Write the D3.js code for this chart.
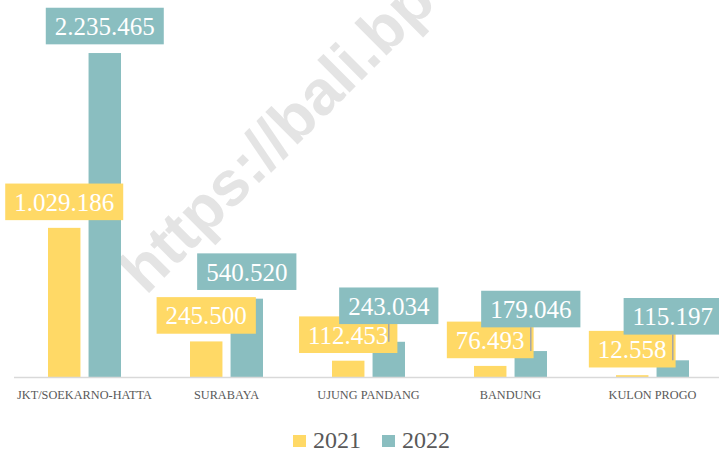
<!DOCTYPE html>
<html>
<head>
<meta charset="utf-8">
<script src="https://cdn.jsdelivr.net/npm/d3@7"></script>
<style>
  body { margin: 0; background: #fff; }
  svg { display: block; }
</style>
</head>
<body>
<svg id="chart" width="719" height="453"></svg>
<script>
"use strict";

// data
const categories = ["JKT/SOEKARNO-HATTA", "SURABAYA", "UJUNG PANDANG", "BANDUNG", "KULON PROGO"];
const seriesNames = ["2021", "2022"];
const values2021 = [1029186, 245500, 112453, 76493, 12558];
const values2022 = [2235465, 540520, 243034, 179046, 115197];
const labels2021 = ["1.029.186", "245.500", "112.453", "76.493", "12.558"];
const labels2022 = ["2.235.465", "540.520", "243.034", "179.046", "115.197"];

// layout (label lift for the moved 2022 labels with leader lines)
const lift2022 = [0, 0, 9, 15, 17];
const colors = {"2021": "#FFD966", "2022": "#8ABEC0"};
const baseY = 377;

let svg = d3.select("svg#chart");

//watermark
svg.append("text")
	.attr("transform", "translate(146,296) rotate(-45)")
	.attr("font-family", "'Liberation Sans', Arial, sans-serif")
	.attr("font-weight", "bold")
	.attr("font-size", 63)
	.attr("fill", "#e4e4e4")
	.text("https://bali.bps.go.id");

let x0 = d3.scaleBand()
	.domain(categories)
	.range([13.5, 723.5])
	.padding(0);

let x1 = d3.scaleBand()
	.domain(seriesNames)
	.range([34.5, 107.5])
	.paddingInner(0.2)
	.paddingOuter(0);

let y = d3.scaleLinear()
	.domain([0, 2500000])
	.range([baseY, 14.7]);

let rows = categories.map(function(c, i)
{
	return {cat: c, i: i, series: [
		{name: "2021", value: values2021[i], label: labels2021[i], lift: 0},
		{name: "2022", value: values2022[i], label: labels2022[i], lift: lift2022[i]}
	]};
});

//bars
let groups = svg.append("g").selectAll("g")
	.data(rows)
	.join("g")
	.attr("transform", function(d) { return "translate(" + x0(d.cat) + ",0)"; });

groups.selectAll("rect")
	.data(function(d) { return d.series; })
	.join("rect")
	.attr("x", function(d) { return x1(d.name); })
	.attr("width", x1.bandwidth())
	.attr("y", function(d) { return y(d.value); })
	.attr("height", function(d) { return baseY - y(d.value); })
	.attr("fill", function(d) { return colors[d.name]; });

//axis
let axis = svg.append("g")
	.attr("transform", "translate(0," + baseY + ")")
	.call(d3.axisBottom(x0).tickSize(0).tickPadding(13.5));
axis.select(".domain")
	.attr("stroke", "#d9d9d9")
	.attr("stroke-width", 1.5);
axis.selectAll("text")
	.attr("font-family", "'Liberation Serif', 'Times New Roman', serif")
	.attr("font-size", 12.3)
	.attr("fill", "#595959");

//data labels, 2021 first so 2022 sits on top
let labelLayer = svg.append("g");
let leaderLayer = svg.append("g");
seriesNames.forEach(function(s, si)
{
	rows.forEach(function(r)
	{
		let d = r.series[si];
		let cx = x0(r.cat) + x1(d.name) + x1.bandwidth() / 2;
		let cy = y(d.value) - (si === 0 ? 26 : 27) - d.lift;
		let g = labelLayer.append("g");
		let box = g.append("rect")
			.attr("fill", colors[d.name]);
		let t = g.append("text")
			.attr("x", cx)
			.attr("y", cy + 9)
			.attr("text-anchor", "middle")
			.attr("font-family", "'Liberation Serif', 'Times New Roman', serif")
			.attr("font-size", 25)
			.attr("fill", "#fff")
			.text(d.label);
		let w = t.node().getComputedTextLength() + 18;
		box.attr("x", cx - w / 2)
			.attr("y", cy - 18.3)
			.attr("width", w)
			.attr("height", 36.6);
		if (d.lift > 0)
		{
			leaderLayer.append("line")
				.attr("x1", cx).attr("x2", cx)
				.attr("y1", cy + 18.3)
				.attr("y2", y(d.value))
				.attr("stroke", "#a6a6a6")
				.attr("stroke-width", 1.5);
		}
	});
});

//legend
let legend = svg.append("g");
seriesNames.forEach(function(s, i)
{
	let lx = 293 + i * 89;
	legend.append("rect")
		.attr("x", lx).attr("y", 435)
		.attr("width", 13).attr("height", 12)
		.attr("fill", colors[s]);
	legend.append("text")
		.attr("x", lx + 20).attr("y", 448)
		.attr("font-family", "'Liberation Serif', 'Times New Roman', serif")
		.attr("font-size", 24)
		.attr("fill", "#595959")
		.text(s);
});
</script>
</body>
</html>
